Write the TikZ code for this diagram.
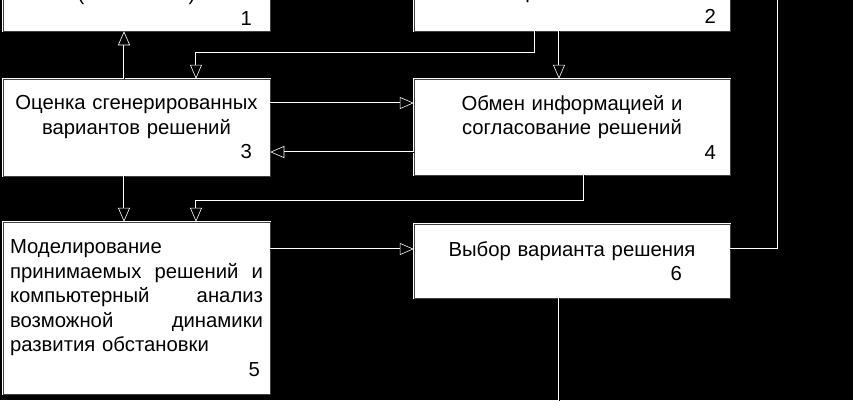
\documentclass[tikz,border=0pt]{standalone}
\usepackage{fontspec}
\setmainfont{Liberation Sans}
\usepackage{tikz}
\usetikzlibrary{arrows.meta}
\tikzset{blk/.style={rectangle,fill=white,draw=white,double=black!75,double distance=0.7pt,line width=0.5pt,inner xsep=0pt,inner ysep=0pt,align=center,font=\fontsize{20.3}{24.5}\selectfont},
conn/.style={draw=white,double=black,double distance=0.9pt,line width=0.6pt},
tip/.style={-{Triangle[open,fill=black,length=14pt,width=12pt]}}}

\begin{document}
\begin{tikzpicture}[x=1pt,y=-1pt]
    \useasboundingbox (0,0) rectangle (853,400);
    \fill[black] (0,0) rectangle (853,400);

    \node[blk,minimum width=267pt,minimum height=50.5pt,text width=267pt] (b1)at (136.5,5.75) {(\rule{104pt}{0pt})\\ \hfill 1\rule{18pt}{0pt}};
    \node[blk,minimum width=316pt,minimum height=50.5pt,text width=316pt] (b2)at (572,5.75) {р\rule{82pt}{0pt}\\ \hfill 2\rule{14pt}{0pt}};
    \node[blk,minimum width=267pt,minimum height=97pt,text width=267pt] (b3)at (136.5,127.5) {Оценка сгенерированных\\ вариантов решений\\ \hfill 3\rule{18pt}{0pt}};
    \node[blk,minimum width=316pt,minimum height=96pt,text width=316pt] (b4)at (572,127) {Обмен информацией и\\ согласование решений\\ \hfill 4\rule{14pt}{0pt}};
    \node[blk,minimum width=267pt,minimum height=172pt,text width=253pt,inner xsep=7pt,align=left] (b5)at (136.5,308) {Моделирование\\ принимаемых\hfill решений\hfill и\\ компьютерный\hfill анализ\\ возможной\hfill динамики\\ развития обстановки\\ \hfill 5\rule{3pt}{0pt}};
    \node[blk,minimum width=316pt,minimum height=74pt,text width=316pt] (b6)at (572,261) {Выбор варианта решения\\ \hfill 6\rule{48pt}{0pt}};

    \coordinate (up) at (778,-20);
    \coordinate (down) at (559,420);

    \draw [conn,tip] ([xshift=-12.5pt]b3.north) to [] ([xshift=-12.5pt]b1.south);
    \draw [conn,tip] ([xshift=-37pt]b2.south) -- ++(0,22) -| ([xshift=59.5pt]b3.north);
    \draw [conn,tip] ([xshift=-13pt]b2.south) to [] ([xshift=-13pt]b4.north);
    \draw [conn,tip] ([yshift=24.5pt]b3.east) to [] ([yshift=24.5pt]b3.east -| b4.west);
    \draw [conn,tip] ([yshift=-24.5pt]b3.east -| b4.west) to [] ([yshift=-24.5pt]b3.east);
    \draw [conn,tip] ([xshift=-12.5pt]b3.south) to [] ([xshift=-12.5pt]b5.north);
    \draw [conn,tip] ([xshift=12pt]b4.south) -- ++(0,26) -| ([xshift=59.5pt]b5.north);
    \draw [conn,tip] ([yshift=59pt]b5.east) to [] ([yshift=59pt]b5.east -| b6.west);
    \draw [conn] ([yshift=12pt]b6.east) -| (up);
    \draw [conn] ([xshift=-13pt]b6.south) to [] (down);
\end{tikzpicture}
\end{document}
